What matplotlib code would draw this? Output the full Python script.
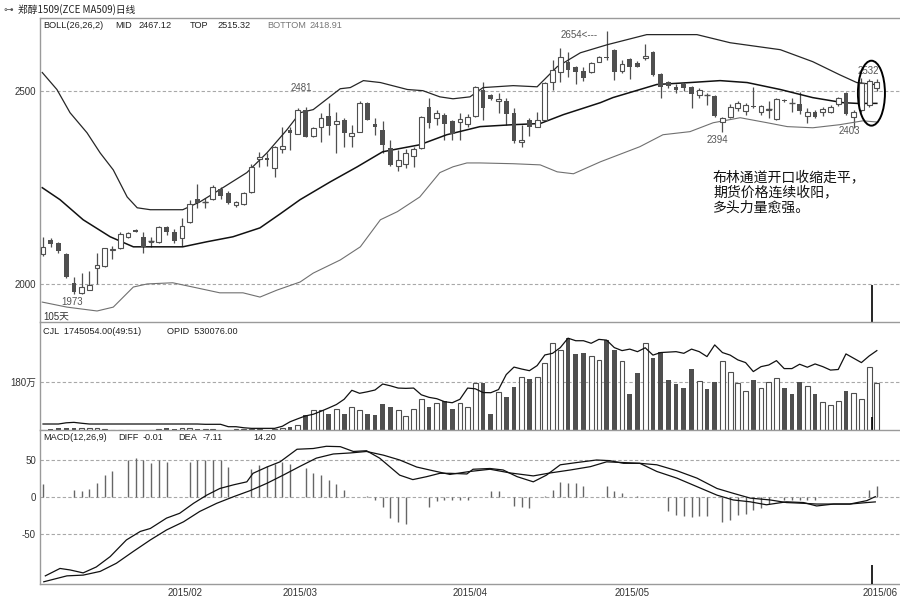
import matplotlib
matplotlib.use('Agg')
import matplotlib.pyplot as plt
from matplotlib.patches import Ellipse
import numpy as np

plt.rcParams['font.family'] = ['Liberation Sans', 'Noto Sans CJK SC', 'DejaVu Sans']

# ---------------- data ----------------
opens = [2078, 2114, 2106, 2078, 2003, 1977, 1985, 2041, 2047, 2087,
         2093, 2122, 2140, 2122, 2108, 2108, 2148, 2135, 2119, 2161,
         2220, 2211, 2220, 2246, 2236, 2205, 2207, 2238, 2322, 2327,
         2300, 2350, 2397, 2389, 2451, 2383, 2407, 2435, 2414, 2425,
         2384, 2394, 2469, 2415, 2399, 2352, 2306, 2310, 2330, 2352,
         2459, 2430, 2438, 2422, 2420, 2415, 2435, 2503, 2490, 2472,
         2474, 2443, 2368, 2425, 2407, 2425, 2523, 2549, 2575, 2560,
         2552, 2547, 2575, 2588, 2606, 2552, 2583, 2572, 2585, 2601,
         2544, 2523, 2510, 2516, 2510, 2490, 2490, 2487, 2420, 2433,
         2456, 2448, 2461, 2446, 2450, 2427, 2477, 2469, 2466, 2435,
         2446, 2446, 2446, 2466, 2495, 2433, 2450, 2462, 2508]
highs = [2122, 2119, 2109, 2080, 2018, 2029, 2033, 2080, 2093, 2099,
         2135, 2134, 2141, 2135, 2122, 2150, 2150, 2143, 2171, 2216,
         2259, 2223, 2255, 2251, 2241, 2214, 2238, 2310, 2342, 2340,
         2358, 2407, 2407, 2455, 2457, 2406, 2443, 2469, 2446, 2430,
         2412, 2472, 2471, 2430, 2422, 2373, 2347, 2350, 2355, 2435,
         2482, 2450, 2442, 2425, 2443, 2440, 2512, 2523, 2492, 2495,
         2480, 2456, 2412, 2428, 2446, 2523, 2580, 2611, 2601, 2565,
         2562, 2575, 2590, 2654, 2608, 2580, 2585, 2577, 2622, 2603,
         2546, 2525, 2516, 2520, 2512, 2506, 2495, 2488, 2432, 2466,
         2474, 2467, 2510, 2464, 2474, 2481, 2479, 2482, 2497, 2456,
         2449, 2459, 2464, 2484, 2497, 2450, 2532, 2530, 2530]
lows = [2073, 2096, 2080, 2015, 1973, 1975, 1983, 2000, 2045, 2065,
        2090, 2120, 2134, 2080, 2096, 2107, 2127, 2106, 2098, 2158,
        2197, 2197, 2218, 2220, 2207, 2200, 2205, 2235, 2303, 2305,
        2277, 2340, 2347, 2387, 2379, 2381, 2368, 2386, 2339, 2355,
        2355, 2392, 2424, 2386, 2339, 2305, 2293, 2300, 2303, 2350,
        2404, 2410, 2373, 2373, 2373, 2405, 2433, 2425, 2477, 2443,
        2412, 2365, 2355, 2383, 2405, 2423, 2503, 2523, 2536, 2518,
        2525, 2545, 2573, 2580, 2528, 2545, 2531, 2560, 2580, 2539,
        2482, 2508, 2495, 2498, 2456, 2480, 2464, 2433, 2394, 2430,
        2448, 2438, 2454, 2438, 2430, 2425, 2470, 2446, 2440, 2417,
        2430, 2435, 2443, 2460, 2438, 2403, 2446, 2458, 2500]
closes = [2096, 2104, 2086, 2018, 1979, 1992, 1998, 2049, 2093, 2091,
          2130, 2132, 2135, 2096, 2110, 2148, 2135, 2112, 2150, 2207,
          2210, 2213, 2250, 2228, 2210, 2212, 2236, 2303, 2328, 2321,
          2355, 2356, 2391, 2451, 2381, 2404, 2430, 2409, 2422, 2391,
          2391, 2469, 2425, 2407, 2360, 2308, 2321, 2340, 2350, 2433,
          2417, 2443, 2415, 2389, 2427, 2433, 2510, 2456, 2479, 2479,
          2440, 2370, 2373, 2407, 2425, 2521, 2554, 2588, 2554, 2547,
          2534, 2572, 2588, 2585, 2547, 2570, 2560, 2562, 2590, 2541,
          2510, 2513, 2503, 2508, 2492, 2503, 2489, 2435, 2430, 2459,
          2469, 2464, 2457, 2461, 2452, 2479, 2472, 2467, 2448, 2446,
          2433, 2453, 2459, 2482, 2440, 2446, 2520, 2525, 2522]

# volume in 万手
volume = [1, 4, 6, 7, 7, 6, 6, 6, 5, 0.5,
          0.5, 0.5, 0.5, 0.5, 0.5, 5, 6, 5, 6, 6,
          5, 4, 3, 1, 1, 4, 4, 4, 4, 1,
          5, 7, 12, 19, 56, 75, 75, 60, 78, 60,
          85, 75, 60, 56, 98, 88, 75, 53, 78, 116,
          85, 103, 107, 78, 100, 85, 177, 178, 60, 144,
          124, 162, 200, 191, 200, 253, 328, 301, 345, 286,
          288, 278, 262, 336, 301, 257, 135, 213, 328, 269,
          294, 188, 173, 157, 229, 184, 154, 180, 257, 216,
          175, 146, 188, 158, 180, 195, 158, 135, 180, 165,
          135, 105, 94, 110, 146, 140, 115, 236, 174.5]

# open interest in 万手
open_interest = [4.0, 4.0, 4.0, 4.8, 5.1, 4.5, 4.0, 4.0, 4.0, 4.0,
                 4.0, 4.0, 4.0, 4.0, 4.0, 4.0, 4.0, 4.0, 4.0, 4.0,
                 4.0, 3.8, 3.8, 3.8, 2.2, 2.2, 1.5, 1.1, 1.1, 1.1,
                 1.1, 2.5, 5.5, 7.5, 9.4, 10.5, 12.5, 14.7, 17.0, 20.5,
                 26.5, 24.5, 25.5, 26.7, 30.7, 29.5, 28.0, 27.8, 28.0, 23.5,
                 21.8, 20.9, 18.9, 18.2, 20.5, 28.0, 27.5, 25.0, 24.9, 27.0,
                 37.0, 42.0, 40.7, 39.6, 43.0, 50.1, 51.2, 55.0, 61.3, 59.6,
                 59.6, 57.9, 60.5, 60.0, 55.0, 53.0, 54.0, 52.3, 54.9, 50.0,
                 51.7, 52.0, 52.3, 51.2, 54.0, 52.3, 49.0, 56.8, 51.7, 50.0,
                 46.8, 45.0, 39.0, 42.3, 43.4, 46.3, 41.0, 41.0, 43.9, 41.9,
                 44.1, 42.3, 40.0, 40.4, 50.8, 47.9, 45.0, 49.4, 53.0]

macd_hist = [17, 0, 0, 0, 9, 7, 10, 18, 29, 35,
             0, 50, 52, 49, 46, 49, 47, 0, 0, 47,
             49, 49, 50, 49, 40, 0, 0, 37, 43, 41,
             44, 47, 44, 0, 38, 32, 29, 22, 17, 9,
             0, 0, 1, -4, -14, -29, -34, -37, 0, 0,
             -14, -6, -5, -4, -4, -4, 0, 0, 7, 7,
             0, -13, -14, -16, 0, 1, 9, 20, 19, 18,
             14, 0, 0, 14, 7, 5, 0, 1, 0, 0,
             0, -19, -25, -26, -27, -26, -26, 0, -34, -32,
             -25, -23, -18, -16, -10, 0, -4, -4, -4, -4,
             -4, 0, 0, 0, 0, 0, 0, 9, 14]

diff_idx = [0.3, 2.2, 3.5, 5.2, 6.9, 8.7, 10.8, 12.6, 13.9, 16.0, 17.7, 19.5, 21.2,
            22.9, 24.7, 26.4, 27.2, 29.0, 30.7, 32.9, 35.0, 36.7, 38.5, 40.2, 41.9,
            43.6, 46.2, 47.9, 49.7, 51.4, 52.7, 54.9, 55.7, 57.9, 59.6, 61.4, 63.5,
            65.2, 67.0, 69.1, 71.7, 73.4, 75.2, 77.3, 79.5, 82.1, 84.7, 87.3, 89.4,
            91.6, 93.7, 96.3, 98.5, 100.2, 102.4, 104.5, 106.7, 107.8]
diff_val = [-107, -97, -99, -103, -95, -81, -58.5, -47, -43, -29, -22.5, -9, 2,
            11, 16, 20, 31.5, 40, 47, 64, 65, 68, 67.5, 61, 62,
            52, 29, 23, 27, 31.5, 31.5, 30.6, 37, 38, 36, 27, 20,
            29, 43, 46, 49.5, 48.6, 45, 45, 34, 25, 13.5, 2, -4.5,
            -7, -11, -7, -8, -12.6, -10, -10, -5.4, -0.01]
dea_idx = [0.1, 3.1, 5.2, 7.4, 9.5, 11.7, 13.9, 16.0, 18.2, 20.3, 22.5, 24.7, 26.8,
           29.0, 31.1, 33.3, 35.4, 37.6, 39.8, 41.9, 44.1, 46.2, 48.4, 50.5, 52.7,
           55.3, 57.9, 60.5, 63.5, 65.7, 68.3, 70.9, 73.0, 75.2, 77.3, 79.5, 82.1,
           84.7, 87.3, 89.4, 91.6, 94.2, 96.3, 98.5, 100.2, 104.5, 106.7, 107.8]
dea_val = [-115, -107, -106, -101, -90, -74, -58.5, -45, -34, -20, -9, 0, 8,
           18, 29, 41, 52, 57.6, 59, 61, 56, 49.5, 40, 35, 30,
           34, 37, 32, 28, 32, 36, 40.5, 47, 46, 45, 43, 35,
           25, 11, 4.5, -2, -4.5, -8, -9, -10, -10, -8, -7.11]

upper_idx = [-0.1, 1.8, 3.5, 5.7, 7.4, 9.1, 10.9, 12.2, 13.9, 18.1, 20.3, 22.9, 26.4,
             29.0, 31.6, 33.3, 35.0, 38.5, 39.8, 41.5, 43.7, 47.2, 49.2, 51.4, 53.1,
             55.3, 57.0, 60.9, 64.0, 66.6, 69.6, 73.1, 78.2, 84.7, 89.0, 95.5, 99.7,
             103.2, 105.4, 108.0]
upper_val = [2547, 2503, 2443, 2391, 2339, 2295, 2225, 2197, 2192, 2192, 2212, 2244, 2288,
             2339, 2399, 2443, 2451, 2505, 2508, 2526, 2521, 2503, 2500, 2484, 2479,
             2484, 2508, 2513, 2510, 2562, 2598, 2619, 2645, 2645, 2624, 2606, 2575,
             2541, 2521, 2515.32]
mid_idx = [-0.1, 2.2, 5.2, 8.7, 11.7, 14.8, 18.1, 21.2, 24.6, 28.1, 30.7, 33.3, 37.2,
           40.7, 44.0, 48.8, 52.3, 56.6, 60.9, 64.4, 67.4, 72.2, 73.8, 79.5, 83.8,
           87.7, 91.2, 95.5, 99.7, 103.6, 105.5, 108.0]
mid_val = [2249, 2218, 2166, 2122, 2096, 2096, 2096, 2109, 2122, 2145, 2181, 2218, 2264,
           2303, 2342, 2360, 2386, 2407, 2412, 2415, 2438, 2469, 2482, 2516, 2521,
           2526, 2521, 2503, 2482, 2469, 2467, 2467.12]
lower_idx = [-0.1, 3.1, 7.0, 9.1, 11.7, 13.5, 16.8, 19.4, 22.9, 25.9, 28.1, 30.3, 33.3,
             35.0, 38.5, 41.1, 43.7, 45.9, 48.8, 51.4, 53.1, 54.9, 56.6, 60.9, 64.4,
             66.6, 68.7, 72.2, 77.3, 80.3, 83.8, 86.8, 90.3, 93.8, 96.4, 99.7, 103.2,
             106.2, 108.0]
lower_val = [1953, 1940, 1930, 1940, 1992, 2000, 2003, 1992, 1977, 1977, 1966, 1984, 2005,
             2028, 2062, 2096, 2166, 2187, 2225, 2288, 2303, 2313, 2313, 2311, 2308,
             2290, 2285, 2316, 2355, 2386, 2394, 2417, 2430, 2417, 2407, 2404, 2412,
             2422, 2418.91]

date_idx = [18.4, 33.35, 55.3, 76.3, 108.4]
date_labels = ['2015/02', '2015/03', '2015/04', '2015/05', '2015/06']

# ---------------- figure ----------------
W, H = 900, 599
fig = plt.figure(figsize=(9, 5.99), dpi=100)
fig.patch.set_facecolor('white')


def rect(x0, y0, x1, y1):
    return [x0 / W, 1 - y1 / H, (x1 - x0) / W, (y1 - y0) / H]


def ftext(x, y, s, **kw):
    fig.text(x / W, 1 - y / H, s, **kw)


axp = fig.add_axes(rect(40, 18, 900, 322))
axv = fig.add_axes(rect(40, 322, 900, 430))
axm = fig.add_axes(rect(40, 430, 900, 584))

XL = (-0.39, 111.0)
spine_c = '#9a9a9a'
grid_c = '#a8a8a8'
dark = '#4f4f4f'
lab_c = '#333333'

for ax in (axp, axv, axm):
    ax.set_xlim(*XL)
    ax.set_facecolor('white')
    ax.spines['right'].set_visible(False)
    for s in ('left', 'top', 'bottom'):
        ax.spines[s].set_color(spine_c)
        ax.spines[s].set_linewidth(1.0)
    ax.tick_params(axis='y', length=0, labelsize=7, colors=lab_c, pad=3)
    ax.tick_params(axis='x', length=0)
axp.spines['bottom'].set_visible(False)
axv.spines['bottom'].set_visible(False)
axp.set_xticks([])
axv.set_xticks([])

# ---------------- price panel ----------------
idx = np.arange(len(closes))
o = np.array(opens, float)
h = np.array(highs, float)
l = np.array(lows, float)
c = np.array(closes, float)
up = c >= o
axp.set_ylim(1901.5, 2688)
for lvl in (2000, 2500):
    axp.axhline(lvl, color=grid_c, lw=0.8, ls=(0, (3, 2)), zorder=1)
axp.set_yticks([2000, 2500])
axp.set_yticklabels(['2000', '2500'])

axp.vlines(idx, l, h, color=dark, lw=0.9, zorder=2)
bb = np.minimum(o, c)
bh = np.maximum(np.abs(c - o), 0.5)
axp.bar(idx[up], bh[up], bottom=bb[up], width=0.62, facecolor='white',
        edgecolor=dark, lw=0.8, zorder=3)
axp.bar(idx[~up], bh[~up], bottom=bb[~up], width=0.62, color=dark, zorder=3)
doji = np.abs(c - o) < 3
axp.hlines(c[doji], idx[doji] - 0.4, idx[doji] + 0.4, color=dark, lw=1.0, zorder=3)

axp.plot(upper_idx, upper_val, color='#262626', lw=0.9, zorder=2)
axp.plot(mid_idx, mid_val, color='#111111', lw=1.1, zorder=2)
axp.plot(lower_idx, lower_val, color='#707070', lw=0.8, zorder=2)

small = dict(fontsize=7, color='#555555')
axp.text(3.75, 1953, '1973', ha='center', va='center', **small)
axp.text(0.0, 1916, '105天', ha='left', va='center', fontsize=7, color='#333333')
axp.text(33.5, 2508, '2481', ha='center', va='center', **small)
axp.text(67.0, 2645, '2654<---', ha='left', va='center', **small)
axp.text(106.9, 2552, '2532', ha='center', va='center', **small)
axp.text(87.4, 2373, '2394', ha='center', va='center', **small)
axp.text(104.4, 2396, '2403', ha='center', va='center', **small)

axp.add_patch(Ellipse((107.3, 2493.5), width=3.5, height=168, fill=False,
                      edgecolor='black', lw=1.4, zorder=6))
axp.vlines(107.4, 1901.5, 1997, color='black', lw=1.2, zorder=6)

ftext(713, 170, '布林通道开口收缩走平，\n期货价格连续收阳，\n多头力量愈强。',
      fontsize=10, va='top', ha='left', linespacing=1.1, color='#111111',
      family=['Noto Sans CJK SC', 'DejaVu Sans'])

# headers
ftext(3, 10, '⊶', fontsize=7, va='center', color='#555555', family=['DejaVu Sans'])
ftext(18, 10, '郑醇1509(ZCE MA509)日线', fontsize=7, va='center', color='#222222',
      family=['Noto Sans CJK SC', 'DejaVu Sans'])
hdr = dict(fontsize=6.6, va='center')
ftext(43, 25, 'BOLL(26,26,2)', color='#222222', **hdr)
ftext(115, 25, 'MID', color='#222222', **hdr)
ftext(138, 25, '2467.12', color='#222222', **hdr)
ftext(190, 25, 'TOP', color='#222222', **hdr)
ftext(217, 25, '2515.32', color='#222222', **hdr)
ftext(267, 25, 'BOTTOM', color='#777777', **hdr)
ftext(309, 25, '2418.91', color='#777777', **hdr)

# ---------------- volume panel ----------------
vol = np.array(volume, float)
axv.set_ylim(0, 405)
axv.axhline(180, color=grid_c, lw=0.8, ls=(0, (3, 2)), zorder=1)
axv.set_yticks([180])
axv.set_yticklabels(['180万'])
axv.bar(idx[up], vol[up], width=0.62, facecolor='white', edgecolor=dark, lw=0.8, zorder=2)
axv.bar(idx[~up], vol[~up], width=0.62, color=dark, zorder=2)
axv.vlines(107.4, 0, 48.8, color='black', lw=1.2, zorder=5)
axo = axv.twinx()
axo.set_xlim(*XL)
axo.set_ylim(0, 72.1)
axo.plot(idx, open_interest, color='#111111', lw=0.9, zorder=3)
axo.set_yticks([])
for s in axo.spines.values():
    s.set_visible(False)
ftext(43, 332, 'CJL  1745054.00(49:51)', color='#222222', **hdr)
ftext(167, 332, 'OPID  530076.00', color='#222222', **hdr)

# ---------------- MACD panel ----------------
axm.set_ylim(-118, 90)
for lvl in (-50, 0, 50):
    axm.axhline(lvl, color=grid_c, lw=0.8, ls=(0, (3, 2)), zorder=1)
axm.set_yticks([-50, 0, 50])
axm.set_yticklabels(['-50', '0', '50'])
mh = np.array(macd_hist, float)
axm.vlines(idx, 0, mh, color='#666666', lw=1.0, zorder=2)
axm.plot(diff_idx, diff_val, color='#111111', lw=0.9, zorder=3)
axm.plot(dea_idx, dea_val, color='#111111', lw=0.9, zorder=3)
axm.vlines(107.4, -118, -92, color='black', lw=1.2, zorder=5)
axm.set_xticks(date_idx)
axm.set_xticklabels(date_labels)
axm.tick_params(axis='x', labelsize=7, colors=lab_c, pad=3)
ftext(43, 437, 'MACD(12,26,9)', color='#222222', **hdr)
ftext(118, 437, 'DIFF', color='#222222', **hdr)
ftext(143, 437, '-0.01', color='#222222', **hdr)
ftext(178, 437, 'DEA', color='#222222', **hdr)
ftext(203, 437, '-7.11', color='#222222', **hdr)
ftext(253, 437, '14.20', color='#222222', **hdr)

fig.savefig('out.png', dpi=100, facecolor='white')
